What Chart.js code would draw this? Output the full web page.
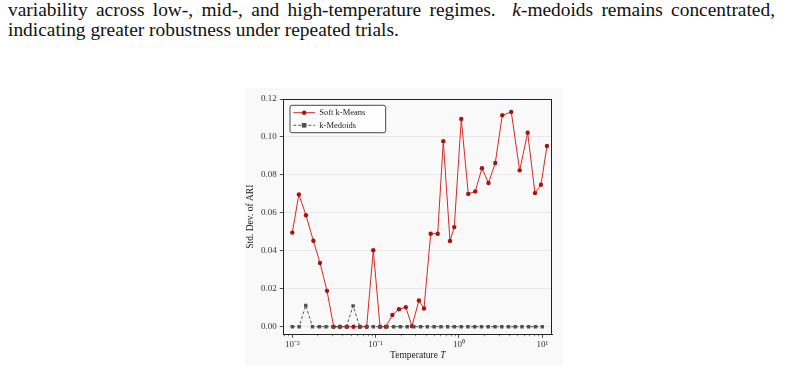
<!DOCTYPE html>
<html><head><meta charset="utf-8">
<script src="https://cdn.jsdelivr.net/npm/chart.js@4.4.1/dist/chart.umd.min.js"></script>
<style>
html,body{margin:0;padding:0;background:#fff;width:807px;height:366px;overflow:hidden;}
.txt{position:absolute;left:8px;font-family:"Liberation Serif","Times New Roman",serif;font-size:19.4px;line-height:20px;color:#111;white-space:nowrap;}
#l1{top:0px;width:767px;text-align:justify;text-align-last:justify;white-space:normal;}
#l2{top:19.5px;}
#fig{position:absolute;left:245px;top:88px;width:318px;height:278px;background:#f9f9f9;}
canvas{display:block;}
</style></head><body>
<div class="txt" id="l1">variability across low-, mid-, and high-temperature regimes.&nbsp; <i>k</i>-medoids remains concentrated,</div>
<div class="txt" id="l2">indicating greater robustness under repeated trials.</div>
<div id="fig"><canvas id="c" width="318" height="278"></canvas></div>
<script>
// ---- data ----
const softLabel = 'Soft k-Means';
const medLabel = 'k-Medoids';
const softT = [0.0100,0.0120,0.0146,0.0179,0.0215,0.0261,0.0314,0.0374,0.0453,0.0543,0.0649,0.0781,
  0.0938,0.113,0.133,0.159,0.191,0.230,0.273,0.331,0.381,0.458,0.556,0.649,0.781,0.879,
  1.067,1.294,1.570,1.890,2.262,2.729,3.311,4.246,5.356,6.681,8.175,9.647,11.39];
const softStd = [0.0496,0.0697,0.0587,0.0453,0.0336,0.0189,0,0,0,0,0,0,
  0.0403,0,0,0.0062,0.0092,0.0103,0.0003,0.0138,0.0096,0.0490,0.0490,0.0978,0.0452,0.0525,
  0.1095,0.0700,0.0713,0.0835,0.0757,0.0863,0.1114,0.1132,0.0824,0.1022,0.0704,0.0748,0.0952];
const medT = [0.0100,0.0121,0.0145,0.0175,0.0211,0.0254,0.0307,0.0369,0.0445,0.0537,0.0647,0.0780,
  0.0940,0.113,0.137,0.165,0.198,0.239,0.288,0.347,0.418,0.504,0.608,0.733,0.883,
  1.064,1.283,1.546,1.863,2.246,2.707,3.263,3.932,4.739,5.712,6.884,8.298,10.0];
const medStd = [0,0,0.0112,0,0,0,0,0,0,0.0110,0,0,0,0,0,0,0,0,0,0,0,0,0,0,0,0,0,0,0,0,0,0,0,0,0,0,0,0];
const yTickValues = [0,0.02,0.04,0.06,0.08,0.10,0.12];
const xTickValues = [0.01,0.1,1,10];
const xTickLabels = ['10\u207B\u00B2','10\u207B\u00B9','10\u2070','10\u00B9'];
const yTitle = 'Std. Dev. of ARI';
const xTitleMain = 'Temperature ';
const xTitleVar = 'T';

const FONT = '"Liberation Serif","Times New Roman",serif';
const SOFT_LINE = '#d42a24', SOFT_PT = '#a8120f';
const MED_LINE = '#555555', MED_PT = '#505050';

const framePlugin = {
  id: 'frame',
  afterDraw(chart) {
    const {ctx, chartArea: a, scales} = chart;
    ctx.save();
    ctx.strokeStyle = '#222'; ctx.lineWidth = 1;
    ctx.strokeRect(Math.round(a.left)+0.5, Math.round(a.top)+0.5, Math.round(a.right-a.left)-1, Math.round(a.bottom-a.top));
    const xs = scales.x;
    ctx.lineWidth = 0.6; ctx.strokeStyle = '#333';
    for (let k = -3; k <= 1; k++) {
      for (let m = 2; m <= 9; m++) {
        const v = m * Math.pow(10, k);
        if (v < xs.min || v > xs.max) continue;
        const px = Math.round(xs.getPixelForValue(v)) + 0.5;
        ctx.beginPath(); ctx.moveTo(px, a.bottom); ctx.lineTo(px, a.bottom + 2); ctx.stroke();
      }
    }
    ctx.fillStyle = '#222';
    ctx.textBaseline = 'middle';
    ctx.font = '9.5px ' + FONT;
    const w1 = ctx.measureText(xTitleMain).width;
    ctx.font = 'italic 9.5px ' + FONT;
    const w2 = ctx.measureText(xTitleVar).width;
    const cx = (a.left + a.right) / 2;
    const x0 = cx - (w1 + w2) / 2;
    const ty = 267;
    ctx.textAlign = 'left';
    ctx.font = '9.5px ' + FONT;
    ctx.fillText(xTitleMain, x0, ty);
    ctx.font = 'italic 9.5px ' + FONT;
    ctx.fillText(xTitleVar, x0 + w1, ty);
    const lx = a.left + 6.7, ly = a.top + 6.3, lw = 95.7, lh = 27.4;
    ctx.fillStyle = 'rgba(255,255,255,0.85)';
    ctx.strokeStyle = '#333'; ctx.lineWidth = 0.9;
    ctx.beginPath();
    if (ctx.roundRect) ctx.roundRect(lx, ly, lw, lh, 2); else ctx.rect(lx, ly, lw, lh);
    ctx.fill(); ctx.stroke();
    const items = [
      {label: chart.data.datasets[0].label, color: SOFT_LINE, pt: SOFT_PT, dash: [], y: a.top + 13.7, shape: 'circle'},
      {label: chart.data.datasets[1].label, color: MED_LINE, pt: MED_PT, dash: [3, 2], y: a.top + 26.3, shape: 'rect'}
    ];
    items.forEach(it => {
      const sx0 = a.left + 10, sx1 = a.left + 31.7, mx = (sx0 + sx1) / 2;
      ctx.setLineDash(it.dash);
      ctx.strokeStyle = it.color; ctx.lineWidth = 1;
      ctx.beginPath(); ctx.moveTo(sx0, it.y); ctx.lineTo(sx1, it.y); ctx.stroke();
      ctx.setLineDash([]);
      ctx.fillStyle = it.pt;
      if (it.shape === 'circle') { ctx.beginPath(); ctx.arc(mx, it.y, 2.2, 0, Math.PI*2); ctx.fill(); }
      else { ctx.fillRect(mx - 2.3, it.y - 2.3, 4.6, 4.6); }
      ctx.fillStyle = '#222';
      ctx.font = '8.5px ' + FONT;
      ctx.textAlign = 'left'; ctx.textBaseline = 'middle';
      ctx.fillText(it.label, a.left + 36, it.y);
    });
    ctx.restore();
  }
};

new Chart(document.getElementById('c'), {
  type: 'line',
  data: {
    datasets: [
      {
        label: softLabel,
        data: softT.map((t, i) => ({x: t, y: softStd[i]})),
        borderColor: SOFT_LINE, borderWidth: 1,
        pointRadius: 2.2, pointBackgroundColor: SOFT_PT, pointBorderColor: SOFT_PT, pointBorderWidth: 0,
        pointStyle: 'circle', tension: 0, order: 2
      },
      {
        label: medLabel,
        data: medT.map((t, i) => ({x: t, y: medStd[i]})),
        borderColor: MED_LINE, borderWidth: 1, borderDash: [3, 2],
        pointRadius: 2.4, pointBackgroundColor: MED_PT, pointBorderColor: MED_PT, pointBorderWidth: 0,
        pointStyle: 'rect', tension: 0, order: 1
      }
    ]
  },
  options: {
    responsive: false, animation: false, devicePixelRatio: 1,
    layout: {padding: {top: 11, right: 10.7, left: 0, bottom: 0}},
    plugins: {legend: {display: false}, tooltip: {enabled: false}},
    scales: {
      x: {
        type: 'logarithmic', min: 0.0078, max: 13.2,
        afterFit: s => { s.height = 31.7; },
        afterBuildTicks: s => { s.ticks = xTickValues.map(v => ({value: v, major: true})); },
        ticks: {
          autoSkip: false, maxRotation: 0, padding: 1.5, color: '#333',
          font: {family: FONT, size: 9},
          callback: (v) => { const i = xTickValues.indexOf(v); return i >= 0 ? xTickLabels[i] : ''; }
        },
        grid: {display: true, drawOnChartArea: false, drawTicks: true, tickLength: 3.5, tickColor: '#222', tickWidth: 0.8},
        border: {display: true, color: '#222', width: 1}
      },
      y: {
        min: -0.004, max: 0.12,
        afterFit: s => { s.width = 38.3; },
        afterBuildTicks: s => { s.ticks = yTickValues.map(v => ({value: v})); },
        ticks: {
          padding: 3, color: '#333', font: {family: FONT, size: 9},
          callback: v => Number(v).toFixed(2)
        },
        grid: {display: true, drawOnChartArea: true, drawTicks: true, tickLength: 3.5,
               color: '#dcdcdc', lineWidth: 0.6, borderDash: [2, 2], tickBorderDash: [], tickColor: '#222', tickWidth: 0.8},
        border: {display: true, color: '#222', width: 1},
        title: {display: true, text: yTitle, color: '#222', font: {family: FONT, size: 9.5}, padding: {top: 0, bottom: 0}}
      }
    }
  },
  plugins: [framePlugin]
});
</script>
</body></html>
